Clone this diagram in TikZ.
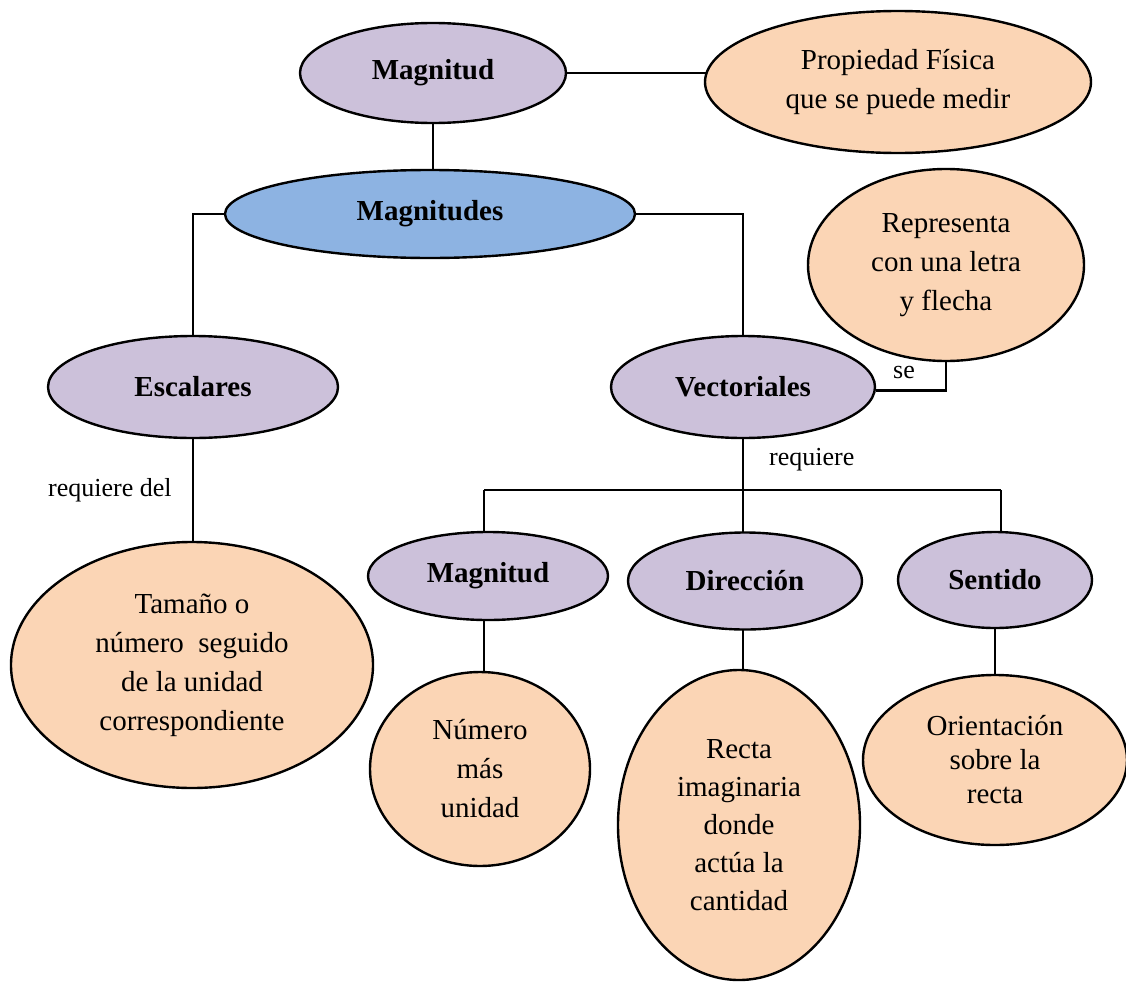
\documentclass[tikz,border=0pt]{standalone}
\usepackage{fontspec}
\setmainfont{Liberation Serif}
\usetikzlibrary{shapes.geometric,backgrounds}

\definecolor{lila}{HTML}{CCC1DA}
\definecolor{azul}{HTML}{8DB3E2}
\definecolor{melon}{HTML}{FBD5B5}

\tikzset{
  oval/.style={ellipse, draw=black, line width=2.4pt, inner sep=0pt, align=center,
               font=\fontsize{29}{39}\selectfont},
  concept/.style={oval, fill=lila, font=\fontsize{29}{39}\selectfont\bfseries},
  root/.style={concept, fill=azul},
  detail/.style={oval, fill=melon},
  link/.style={line width=2.4pt},
  tag/.style={font=\fontsize{26}{30}\selectfont, inner sep=0pt, anchor=base west},
}

\begin{document}
\begin{tikzpicture}[x=1pt, y=-1pt]
\useasboundingbox (0,0) rectangle (1126,982);

% upper level
\node[concept, minimum width=266, minimum height=100] (mag) at (433,73) {Magnitud};
\node[detail, minimum width=386, minimum height=142] (prop) at (898,82)
  {Propiedad Física\\que se puede medir};
\node[root, minimum width=410, minimum height=88] (mags) at (430,214) {Magnitudes};
\node[detail, minimum width=276, minimum height=192] (rep) at (946,265)
  {Representa\\con una letra\\y flecha};

% scalar and vector branches
\node[concept, minimum width=290, minimum height=102] (esc) at (193,387) {Escalares};
\node[concept, minimum width=264, minimum height=102] (vec) at (743,387) {Vectoriales};
\node[detail, minimum width=362, minimum height=246] (tam) at (192,665)
  {Tamaño o\\número\ \ seguido\\de la unidad\\correspondiente};

% components of a vector
\node[concept, minimum width=240, minimum height=88] (mag2) at (488,576) {Magnitud};
\node[concept, minimum width=234, minimum height=97] (dir) at (745,581) {Dirección};
\node[concept, minimum width=194, minimum height=96] (sen) at (995,580) {Sentido};
\node[detail, minimum width=220, minimum height=194] (num) at (480,769)
  {Número\\más\\unidad};
\node[detail, minimum width=242, minimum height=310, font=\fontsize{29}{38}\selectfont]
  (recta) at (739,825) {Recta\\imaginaria\\donde\\actúa la\\cantidad};
\node[detail, minimum width=264, minimum height=170, font=\fontsize{29}{34}\selectfont]
  (ori) at (995,760) {Orientación\\sobre la\\recta};

% connector labels
\node[tag] (treq) at (48,496) {requiere del};
\node[tag] (tvreq) at (769,465) {requiere};
\node[tag] (tse) at (893,378) {se};

\coordinate (bL) at (484,490);
\coordinate (bR) at (1001,490);

\begin{pgfonlayer}{background}
  \draw[link] (mag) -- (mag -| prop);
  \draw[link] (mag) -- (mag |- mags);
  \draw[link] (mags.west) -| (esc);
  \draw[link] (mags.east) -| (vec);
  \draw[link] ([yshift=-3.5pt]vec.east) -| (rep);
  \draw[link] (esc) -- (esc |- tam);
  \draw[link] (vec) -- (vec |- recta);
  \draw[link] (bL) -- (bR);
  \draw[link] (bL) -- (bL |- num);
  \draw[link] (bR) -- (bR |- sen);
  \draw[link] (sen) -- (sen |- ori);
\end{pgfonlayer}
\end{tikzpicture}
\end{document}
